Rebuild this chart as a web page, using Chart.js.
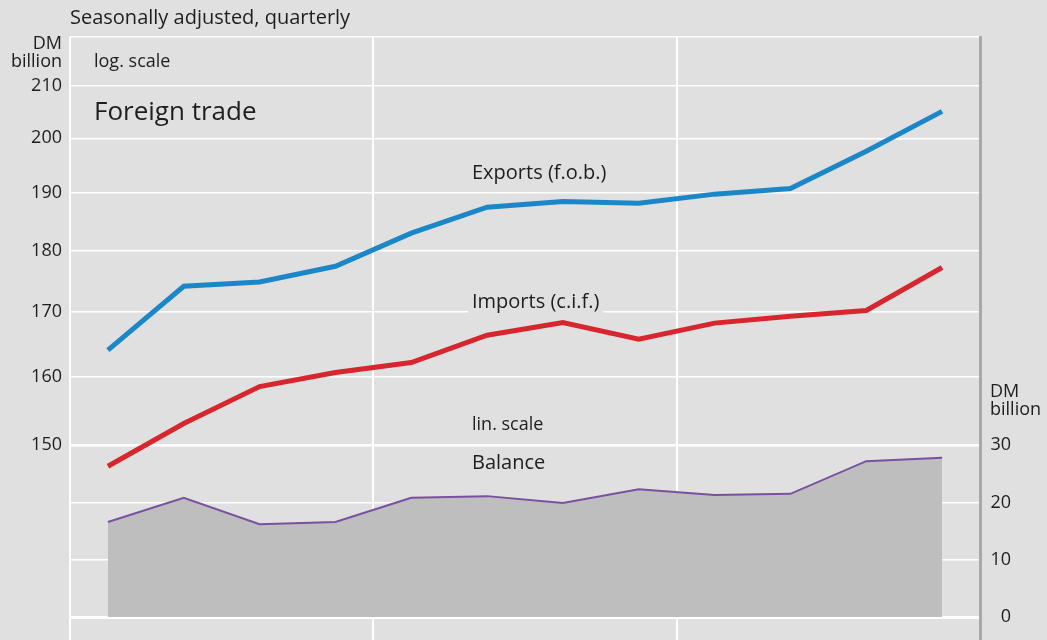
<!DOCTYPE html>
<html><head><meta charset="utf-8">
<script src="https://cdn.jsdelivr.net/npm/chart.js@4.4.1/dist/chart.umd.min.js"></script>
<style>
html,body{margin:0;padding:0;background:#e0e0e0;overflow:hidden}
#wrap{width:1047px;height:640px;position:relative}
</style>
</head><body>
<div id="wrap"><canvas id="c" width="1047" height="640"></canvas></div>
<script>
const quarters = ['Q1 Y1','Q2 Y1','Q3 Y1','Q4 Y1','Q1 Y2','Q2 Y2','Q3 Y2','Q4 Y2','Q1 Y3','Q2 Y3','Q3 Y3','Q4 Y3'];
const exportsFob = [164.0,174.1,174.8,177.4,183.0,187.5,188.5,188.2,189.8,190.8,197.6,205.1];
const importsCif = [147.1,153.1,158.5,160.6,162.1,166.3,168.3,165.7,168.2,169.3,170.2,177.2];
const balance = [16.6,20.8,16.2,16.6,20.8,21.1,19.9,22.3,21.3,21.5,27.2,27.8];
const logTicks = [150,160,170,180,190,200,210];
const linTicks = [0,10,20,30];
const LOG_MIN = 125, LOG_MAX = 219.9, LIN_MIN = -4, LIN_MAX = 101.2;

const FONT = '"Open Sans", "Noto Sans", sans-serif';
const toPts = arr => arr.map((v,i)=>({x:i+0.5,y:v,q:quarters[i]}));

const textPlugin = {
  id:'texts',
  afterDraw(chart){
    const ctx = chart.ctx;
    ctx.save();
    ctx.fillStyle = '#1e1e1e';
    ctx.textBaseline = 'middle';
    const put = (t,x,y,size,align,box)=>{
      ctx.font = size+'px '+FONT;
      ctx.textAlign = align||'left';
      if(box){
        const w = ctx.measureText(t).width;
        ctx.fillStyle = '#e0e0e0';
        ctx.fillRect(x-4,y-size*0.7,w+8,size*1.4);
        ctx.fillStyle = '#1e1e1e';
      }
      ctx.fillText(t,x,y);
    };
    put('Seasonally adjusted, quarterly',70,18,20);
    put('DM',62,44,18,'right');
    put('billion',62,62,18,'right');
    put('log. scale',94,62,18);
    put('Foreign trade',94,113,26);
    put('Exports (f.o.b.)',472,173,20);
    put('Imports (c.i.f.)',472,302,20,'left',true);
    put('lin. scale',472,425,18);
    put('Balance',472,463,20);
    put('DM',990,392,18);
    put('billion',990,410,18);
    ctx.restore();
  }
};

function noPad(s){ s.paddingTop=0; s.paddingBottom=0; }

new Chart(document.getElementById('c'),{
  type:'line',
  data:{datasets:[
    {label:'Exports (f.o.b.)',data:toPts(exportsFob),yAxisID:'y',borderColor:'#1c87c8',borderWidth:5,pointRadius:0,tension:0,fill:false},
    {label:'Imports (c.i.f.)',data:toPts(importsCif),yAxisID:'y',borderColor:'#d8262e',borderWidth:5,pointRadius:0,tension:0,fill:false},
    {label:'Balance',data:toPts(balance),yAxisID:'y2',borderColor:'#7a50a0',borderWidth:2,pointRadius:0,tension:0,fill:'origin',backgroundColor:'#bebebe'}
  ]},
  options:{
    responsive:false,animation:false,
    layout:{padding:{top:37,left:0,right:36,bottom:0}},
    plugins:{legend:{display:false},tooltip:{enabled:false}},
    scales:{
      x:{type:'linear',min:0,max:12,
        ticks:{display:false,stepSize:4},
        grid:{color:'#ffffff',lineWidth:2,drawTicks:false},
        border:{display:false},
        afterFit(s){s.height=0; s.paddingLeft=0; s.paddingRight=0;}
      },
      y:{type:'logarithmic',position:'left',min:LOG_MIN,max:LOG_MAX,
        afterBuildTicks(s){s.ticks=[...logTicks,LOG_MAX].map(v=>({value:v}));},
        ticks:{callback:v=>logTicks.includes(v)?String(v):'',color:'#1e1e1e',font:{family:FONT,size:18},padding:8},
        grid:{color:'#ffffff',lineWidth:1.5,drawTicks:false},
        border:{display:false},
        afterFit(s){s.width=70; noPad(s);}
      },
      y2:{type:'linear',position:'right',min:LIN_MIN,max:LIN_MAX,
        afterBuildTicks(s){s.ticks=linTicks.map(v=>({value:v}));},
        ticks:{crossAlign:'far',color:'#1e1e1e',font:{family:FONT,size:18},padding:8},
        grid:{color:'#ffffff',lineWidth:c=>c.tick&&c.tick.value===0?3:1.5,drawTicks:false},
        border:{display:true,color:'#a8a8a8',width:3},
        afterFit(s){s.width=31; noPad(s);}
      }
    }
  },
  plugins:[textPlugin]
});
</script>
</body></html>
